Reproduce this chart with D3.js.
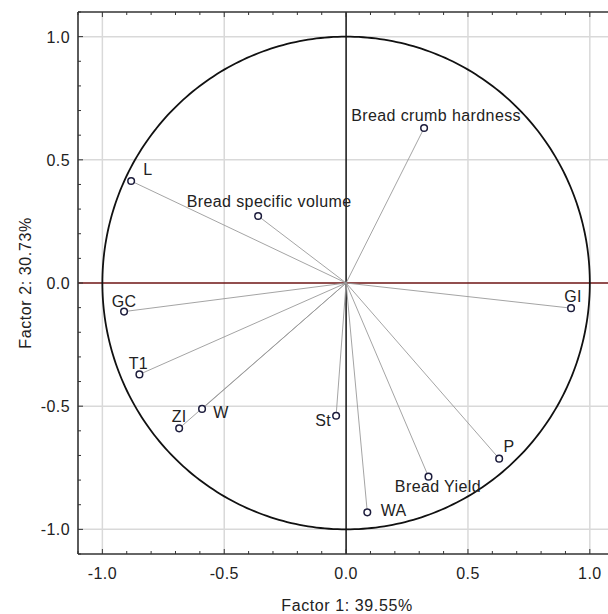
<!DOCTYPE html>
<html><head><meta charset="utf-8">
<script src="https://cdn.jsdelivr.net/npm/d3@7"></script>
<style>
html,body{margin:0;padding:0;background:#fff;}
svg text{font-family:"Liberation Sans",Arial,sans-serif;fill:#222;}
</style></head>
<body><div id="chart"></div>
<script>
// ---- data ----
const variables = ["Bread crumb hardness","L","Bread specific volume","GC","T1","W","ZI","GI","St","P","Bread Yield","WA"];
const factor1 = [0.320,-0.882,-0.361,-0.911,-0.848,-0.591,-0.685,0.923,-0.041,0.628,0.338,0.087];
const factor2 = [0.629,0.414,0.272,-0.116,-0.371,-0.511,-0.590,-0.102,-0.539,-0.713,-0.786,-0.931];
const majorTicks = [-1.0,-0.5,0.0,0.5,1.0];
const tickLabels = ["-1.0","-0.5","0.0","0.5","1.0"];
const xTitle = "Factor 1: 39.55%";
const yTitle = "Factor 2: 30.73%";

// ---- label layout (anchor, dx, dy) ----
const labelLayout = {
  "Bread crumb hardness":["middle",12,-7.5],
  "L":["start",12,-6],
  "Bread specific volume":["middle",11,-9.3],
  "GC":["middle",0,-4.4],
  "T1":["middle",-1,-5.3],
  "W":["start",11.3,8.7],
  "ZI":["middle",0,-6],
  "GI":["middle",2,-6.3],
  "St":["end",-5,10],
  "P":["start",4.3,-7],
  "Bread Yield":["middle",9.5,15],
  "WA":["start",13.4,3.7]
};

const W = 608, H = 614;
const svg = d3.select("#chart").append("svg").attr("width",W).attr("height",H);
const x = d3.scaleLinear().domain([-1.1,1.1]).range([78,614.2]);
const y = d3.scaleLinear().domain([-1.1,1.1]).range([554,12]);

// gridlines
const grid = majorTicks.filter(v=>v!==0);
svg.append("g").selectAll("line").data(grid).join("line")
  .attr("x1",d=>x(d)).attr("x2",d=>x(d)).attr("y1",y(1.1)).attr("y2",y(-1.1))
  .attr("stroke","#d9d9d9").attr("stroke-width",1.5);
svg.append("g").selectAll("line").data(grid).join("line")
  .attr("y1",d=>y(d)).attr("y2",d=>y(d)).attr("x1",x(-1.1)).attr("x2",x(1.1))
  .attr("stroke","#d9d9d9").attr("stroke-width",1.5);

// zero lines
svg.append("line").attr("x1",x(0)).attr("x2",x(0)).attr("y1",y(1.1)).attr("y2",y(-1.1))
  .attr("stroke","#111").attr("stroke-width",1.5);
svg.append("line").attr("x1",x(-1.1)).attr("x2",x(1.1)).attr("y1",y(0)).attr("y2",y(0))
  .attr("stroke","#6e1414").attr("stroke-width",1.6);

// unit circle
const circ = d3.range(0,361,1).map(a=>[Math.cos(a*Math.PI/180),Math.sin(a*Math.PI/180)]);
svg.append("path").datum(circ)
  .attr("d",d3.line().x(d=>x(d[0])).y(d=>y(d[1])))
  .attr("fill","none").attr("stroke","#111").attr("stroke-width",1.8);

// vectors
svg.append("g").selectAll("line").data(variables).join("line")
  .attr("x1",x(0)).attr("y1",y(0))
  .attr("x2",(d,i)=>x(factor1[i])).attr("y2",(d,i)=>y(factor2[i]))
  .attr("stroke","#9a9a9a").attr("stroke-width",0.9);

// points
svg.append("g").selectAll("circle").data(variables).join("circle")
  .attr("cx",(d,i)=>x(factor1[i])).attr("cy",(d,i)=>y(factor2[i])).attr("r",3.3)
  .attr("fill","#fff").attr("stroke","#1c1c3c").attr("stroke-width",1.5);

// labels
svg.append("g").selectAll("text").data(variables).join("text")
  .attr("x",(d,i)=>x(factor1[i])+labelLayout[d][1])
  .attr("y",(d,i)=>y(factor2[i])+labelLayout[d][2])
  .attr("text-anchor",d=>labelLayout[d][0])
  .style("font-size","16px").style("letter-spacing","0.4px")
  .text(d=>d);

// axes frame
const minor = d3.range(-11,12).map(v=>v/10);
const ax = svg.append("g");
ax.append("line").attr("x1",78).attr("x2",78).attr("y1",12).attr("y2",554).attr("stroke","#333").attr("stroke-width",1.6);
ax.append("line").attr("x1",78).attr("x2",W).attr("y1",12).attr("y2",12).attr("stroke","#333").attr("stroke-width",1.6);
ax.append("line").attr("x1",78).attr("x2",W).attr("y1",554).attr("y2",554).attr("stroke","#333").attr("stroke-width",1.6);

const isMajor = v => Math.abs(v*2 - Math.round(v*2))<1e-6;
ax.append("g").selectAll("line").data(minor).join("line")
  .attr("x1",78).attr("x2",d=>78+(isMajor(d)?5:3))
  .attr("y1",d=>y(d)).attr("y2",d=>y(d)).attr("stroke","#333").attr("stroke-width",1);
ax.append("g").selectAll("line").data(minor).join("line")
  .attr("y1",554).attr("y2",d=>554-(isMajor(d)?5:3))
  .attr("x1",d=>x(d)).attr("x2",d=>x(d)).attr("stroke","#333").attr("stroke-width",1);
ax.append("g").selectAll("line").data(minor).join("line")
  .attr("y1",12).attr("y2",d=>12+(isMajor(d)?5:3))
  .attr("x1",d=>x(d)).attr("x2",d=>x(d)).attr("stroke","#333").attr("stroke-width",1);

// tick labels
ax.append("g").selectAll("text").data(majorTicks).join("text")
  .attr("x",70).attr("y",d=>y(d)+6).attr("text-anchor","end")
  .style("font-size","16px").style("letter-spacing","0.4px")
  .text((d,i)=>tickLabels[i]);
ax.append("g").selectAll("text").data(majorTicks).join("text")
  .attr("x",d=>x(d)).attr("y",579).attr("text-anchor","middle")
  .style("font-size","16px").style("letter-spacing","0.4px")
  .text((d,i)=>tickLabels[i]);

// titles
svg.append("text").attr("x",347).attr("y",611).attr("text-anchor","middle")
  .style("font-size","16px").style("letter-spacing","0.6px").text(xTitle);
svg.append("text").attr("transform","translate(31,283) rotate(-90)").attr("text-anchor","middle")
  .style("font-size","16px").style("letter-spacing","0.6px").text(yTitle);
</script></body></html>
